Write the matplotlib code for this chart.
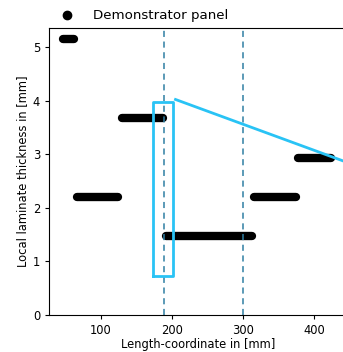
import matplotlib
matplotlib.use("Agg")
import matplotlib.pyplot as plt
from matplotlib.lines import Line2D

# measured thickness segments: (start mm, end mm, thickness mm)
seg_start = [46, 66, 129, 191, 315, 378]
seg_end = [62, 124, 188, 312, 375, 424]
seg_thick = [5.15, 2.2, 3.68, 1.47, 2.2, 2.93]

# section markers
vlines_x = [189, 300]

# highlighted region (cyan box) and trend line
box_x = [174, 202]
box_y = [0.73, 3.97]
trend_x = [205, 450]
trend_y = [4.02, 2.83]

plt.rcParams['font.size'] = 8.3
plt.rcParams['xtick.major.size'] = 2.9
plt.rcParams['ytick.major.size'] = 2.9
plt.rcParams['axes.linewidth'] = 0.8

fig = plt.figure(figsize=(3.43, 3.52), dpi=100)
ax = fig.add_axes([0.143, 0.105, 0.87, 0.815])

for x0, x1, t in zip(seg_start, seg_end, seg_thick):
    ax.plot([x0, x1], [t, t], color='k', lw=6.0, solid_capstyle='round')

for xv in vlines_x:
    ax.axvline(xv, color='#2f7fa3', ls='--', lw=1.1, dashes=(4, 3))

cyan = '#29c3f5'
ax.plot([box_x[0], box_x[1], box_x[1], box_x[0], box_x[0]],
        [box_y[0], box_y[0], box_y[1], box_y[1], box_y[0]], color=cyan, lw=2.0)
ax.plot(trend_x, trend_y, color=cyan, lw=2.0)

ax.set_xlim(27, 447)
ax.set_ylim(0, 5.35)
ax.set_xticks([100, 200, 300, 400])
ax.set_yticks([0, 1, 2, 3, 4, 5])
ax.spines['right'].set_visible(False)
ax.set_xlabel('Length-coordinate in [mm]', labelpad=0.5)
ax.set_ylabel('Local laminate thickness in [mm]', labelpad=2.5)

handle = Line2D([], [], color='k', marker='o', ls='', markersize=6)
fig.legend([handle], ['Demonstrator panel'], loc='center left',
           bbox_to_anchor=(0.122, 0.955), frameon=False, fontsize=9.6,
           handletextpad=0.9)

fig.savefig('out.png', dpi=100)
